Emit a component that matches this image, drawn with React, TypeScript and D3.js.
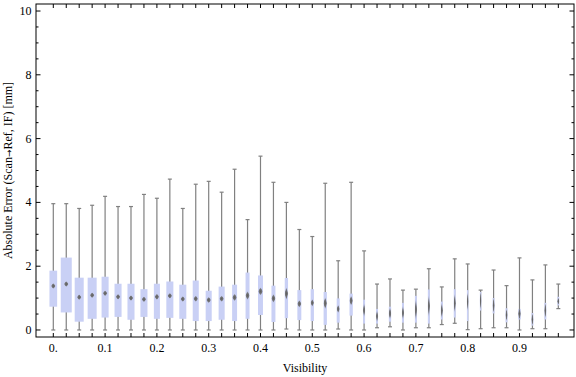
import React from "react";
import * as d3 from "d3";

// Box-whisker statistics per visibility bin (bin k starts at k*0.025)
const binStarts: number[] = d3.range(40).map((k) => +(k * 0.025).toFixed(3));
const whiskerHigh: number[] = [
  3.96, 3.96, 3.81, 3.91, 4.19, 3.87, 3.87, 4.25, 4.13, 4.73,
  3.81, 4.57, 4.66, 4.32, 5.04, 3.46, 5.45, 4.63, 4.0, 3.15,
  2.93, 4.6, 2.17, 4.63, 2.48, 1.44, 1.6, 1.25, 1.28, 1.92,
  1.35, 2.23, 2.07, 1.25, 1.88, 1.39, 2.26, 1.57, 2.04, 1.44,
];
const q3: number[] = [
  1.86, 2.27, 1.64, 1.64, 1.67, 1.45, 1.45, 1.28, 1.45, 1.52,
  1.42, 1.55, 1.23, 1.36, 1.42, 1.8, 1.71, 1.39, 1.63, 1.25,
  1.28, 1.19, 0.99, 1.14, 0.95, 0.66, 0.73, 0.85, 1.07, 1.27,
  0.89, 1.28, 1.25, 1.19, 1.0, 0.68, 0.66, 0.53, 0.85, 1.04,
];
const medians: number[] = [
  1.38, 1.44, 1.03, 1.09, 1.15, 1.04, 1.0, 0.96, 1.04, 1.07,
  0.97, 0.98, 0.94, 0.98, 1.02, 1.08, 1.21, 0.99, 1.14, 0.82,
  0.85, 0.84, 0.66, 0.92, 0.62, 0.43, 0.52, 0.54, 0.64, 0.75,
  0.61, 0.84, 0.89, 0.92, 0.77, 0.47, 0.51, 0.33, 0.61, 0.9,
];
const q1: number[] = [
  0.73, 0.55, 0.26, 0.35, 0.39, 0.41, 0.32, 0.41, 0.35, 0.38,
  0.35, 0.28, 0.28, 0.32, 0.28, 0.35, 0.47, 0.25, 0.37, 0.31,
  0.28, 0.16, 0.23, 0.45, 0.2, 0.2, 0.26, 0.23, 0.23, 0.2,
  0.33, 0.39, 0.28, 0.61, 0.52, 0.24, 0.33, 0.14, 0.33, 0.77,
];
const whiskerLow: number[] = [
  0, 0, 0, 0, 0, 0, 0, 0, 0, 0,
  0, 0, 0, 0, 0, 0, 0, 0, 0.03, 0,
  0, 0, 0.03, 0, 0, 0.07, 0.1, 0, 0.07, 0.07,
  0.17, 0.21, 0.01, 0.04, 0.07, 0.07, 0, 0.04, 0.04, 0.67,
];
// relative sample weight of each bin (drives box width)
const binWeight: number[] = [
  0.7, 1.0, 0.82, 0.82, 0.64, 0.64, 0.64, 0.64, 0.55, 0.64,
  0.64, 0.55, 0.55, 0.55, 0.45, 0.36, 0.45, 0.36, 0.3, 0.36,
  0.3, 0.3, 0.27, 0.3, 0.18, 0.18, 0.21, 0.18, 0.18, 0.18,
  0.18, 0.18, 0.14, 0.14, 0.18, 0.18, 0.23, 0.18, 0.18, 0.18,
];
// half-height of median confidence marker (data units)
const medianSpread: number[] = [
  0.09, 0.08, 0.09, 0.09, 0.09, 0.09, 0.09, 0.09, 0.1, 0.09,
  0.09, 0.1, 0.1, 0.1, 0.12, 0.14, 0.13, 0.14, 0.2, 0.12,
  0.12, 0.19, 0.13, 0.16, 0.23, 0.2, 0.2, 0.23, 0.35, 0.35,
  0.25, 0.3, 0.3, 0.3, 0.25, 0.2, 0.2, 0.2, 0.25, 0.12,
];
const yTicks: number[] = [0, 2, 4, 6, 8, 10];
const yMinorTicks: number[] = d3.range(0, 10.01, 0.5);
const xLabelEvery = 4;

const W = 576;
const H = 377;
const frame = { left: 36, right: 574, top: 4, bottom: 337 };

export default function App() {
  const x = d3.scaleLinear().domain([-1.336, 40.21]).range([frame.left, frame.right]);
  const y = d3.scaleLinear().domain([-0.22, 10.22]).range([frame.bottom, frame.top]);
  const wScale = d3.scaleLinear().domain([0, 1]).range([0, 11]);
  const fmt = (v: number) => (v === 0 ? "0." : d3.format(".1f")(v));
  const font = "'Liberation Serif', 'Times New Roman', serif";
  const grey = "#808080";

  return (
    <svg
      width={W}
      height={H}
      style={{ position: "absolute", left: 0, top: 0, background: "#fff" }}
      fontFamily={font}
    >
      <defs>
        <radialGradient id="medGrad" cx="50%" cy="50%" r="50%">
          <stop offset="0%" stopColor="#5e5e5e" stopOpacity={1} />
          <stop offset="60%" stopColor="#6e6e6e" stopOpacity={0.9} />
          <stop offset="100%" stopColor="#808080" stopOpacity={0.1} />
        </radialGradient>
      </defs>
      <rect width={W} height={H} fill="#fff" />
      {binStarts.map((_, i) => {
        const cx = x(i);
        const bw = wScale(binWeight[i]);
        const cap = 2;
        const rx = Math.min(2.4, bw / 2 + 0.2);
        const ry = Math.max(3, y(0) - y(medianSpread[i]));
        const my = y(medians[i]);
        return (
          <g key={i}>
            <line x1={cx} x2={cx} y1={y(whiskerLow[i])} y2={y(whiskerHigh[i])} stroke={grey} strokeWidth={1.2} />
            <line x1={cx - cap} x2={cx + cap} y1={y(whiskerHigh[i])} y2={y(whiskerHigh[i])} stroke={grey} strokeWidth={1.2} />
            <line x1={cx - cap} x2={cx + cap} y1={y(whiskerLow[i])} y2={y(whiskerLow[i])} stroke={grey} strokeWidth={1.2} />
            <rect x={cx - bw / 2} width={bw} y={y(q3[i])} height={y(q1[i]) - y(q3[i])} fill="#c9d0f5" />
            <path
              d={`M${cx},${my - ry} L${cx + rx},${my} L${cx},${my + ry} L${cx - rx},${my} Z`}
              fill="url(#medGrad)"
            />
          </g>
        );
      })}
      {/* frame */}
      <rect
        x={frame.left}
        y={frame.top}
        width={frame.right - frame.left}
        height={frame.bottom - frame.top}
        fill="none"
        stroke="#000"
        strokeWidth={1}
      />
      {/* y ticks left & right */}
      {yMinorTicks.map((v) => {
        const major = Math.abs(v % 2) < 1e-6;
        const len = major ? 4.5 : 2.5;
        return (
          <g key={"yt" + v}>
            <line x1={frame.left} x2={frame.left + len} y1={y(v)} y2={y(v)} stroke="#000" />
            <line x1={frame.right} x2={frame.right - len} y1={y(v)} y2={y(v)} stroke="#000" />
          </g>
        );
      })}
      {yTicks.map((v) => (
        <text key={"yl" + v} x={31.5} y={y(v) + 4} textAnchor="end" fontSize={12} fill="#000">
          {v}
        </text>
      ))}
      {/* x ticks top & bottom */}
      {binStarts.map((b, i) => (
        <g key={"xt" + i}>
          <line x1={x(i)} x2={x(i)} y1={frame.bottom} y2={frame.bottom - 4} stroke="#000" />
          <line x1={x(i)} x2={x(i)} y1={frame.top} y2={frame.top + 4} stroke="#000" />
          {i % xLabelEvery === 0 && (
            <text x={x(i)} y={352} textAnchor="middle" fontSize={12} fill="#000">
              {fmt(b)}
            </text>
          )}
        </g>
      ))}
      <text x={(frame.left + frame.right) / 2} y={372} textAnchor="middle" fontSize={12} fill="#000">
        Visibility
      </text>
      <text
        transform={`translate(12, 170.5) rotate(-90)`}
        textAnchor="middle"
        fontSize={12}
        fill="#000"
      >
        Absolute Error (Scan
        <tspan fontFamily="'DejaVu Sans', sans-serif" fontSize={9}>→</tspan>
        Ref, IF) [mm]
      </text>
    </svg>
  );
}
